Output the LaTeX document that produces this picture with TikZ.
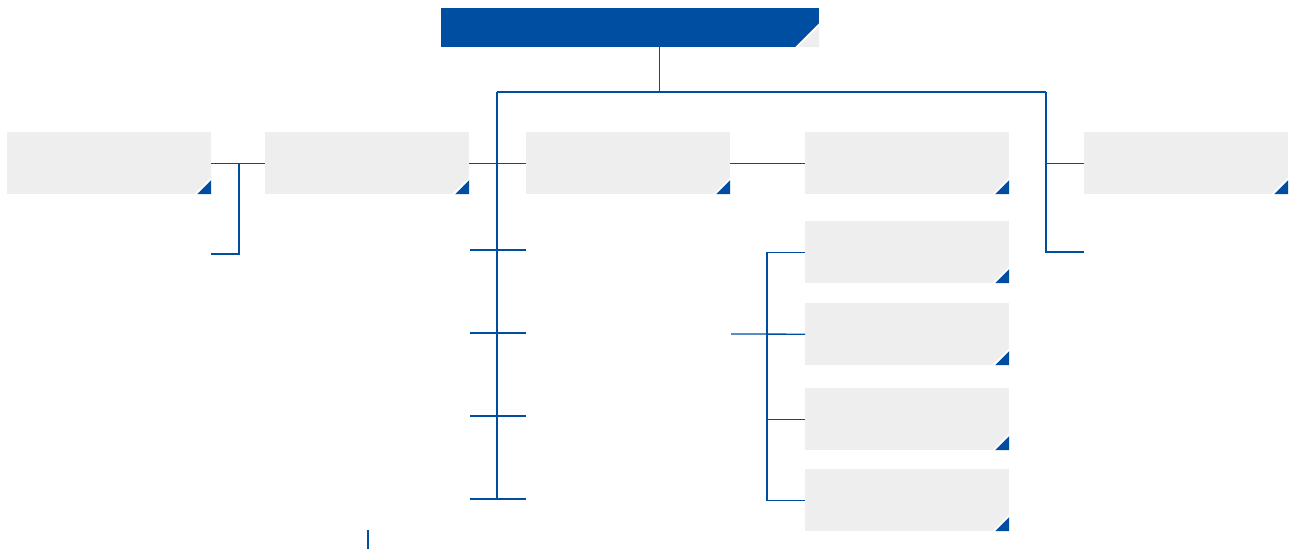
\documentclass[tikz,border=0pt]{standalone}
\definecolor{cblue}{RGB}{0,78,162}
\definecolor{cgrey}{RGB}{238,238,238}
\tikzset{
  x=1pt, y=-1pt,
  box/.style={fill=cgrey, inner sep=0pt, minimum width=204pt, minimum height=62pt, anchor=north west,
    path picture={
      \fill[white] (path picture bounding box.south east) -- ([xshift=-17pt]path picture bounding box.south east) -- ([yshift=17pt]path picture bounding box.south east) -- cycle;
      \fill[cblue] (path picture bounding box.south east) -- ([xshift=-14pt]path picture bounding box.south east) -- ([yshift=14pt]path picture bounding box.south east) -- cycle;
    }},
  topbox/.style={fill=cblue, inner sep=0pt, minimum width=378pt, minimum height=39pt, anchor=north west,
    path picture={
      \fill[white] (path picture bounding box.south east) -- ([xshift=-24pt]path picture bounding box.south east) -- ([yshift=24pt]path picture bounding box.south east) -- cycle;
      \fill[cgrey] (path picture bounding box.south east) -- ([xshift=-21pt]path picture bounding box.south east) -- ([yshift=21pt]path picture bounding box.south east) -- cycle;
    }},
  conn/.style={draw=cblue, line width=1.3pt},
}
\begin{document}
\begin{tikzpicture}
\useasboundingbox (0,0) rectangle (1292,553);
% nodes
\node[topbox] (top) at (441,8) {};
\node[box] (A) at (7,132) {};
\node[box] (B) at (265,132) {};
\node[box] (C) at (526,132) {};
\node[box] (D) at (805,132) {};
\node[box] (E) at (1084,132) {};
\node[box] (D1) at (805,221) {};
\node[box] (D2) at (805,303) {};
\node[box] (D3) at (805,388) {};
\node[box] (D4) at (805,469) {};
% coordinates
\coordinate (topOut) at ([xshift=29pt]top.south);
\coordinate (busL) at (497,92);
\coordinate (busR) at (1046,92);
\coordinate (cEnd) at (497,499);
\coordinate (t1l) at (470,250); \coordinate (t1r) at (526,250);
\coordinate (t2l) at (470,333); \coordinate (t2r) at (526,333);
\coordinate (t3l) at (470,416); \coordinate (t3r) at (526,416);
\coordinate (t4l) at (470,499); \coordinate (t4r) at (526,499);
\coordinate (jA) at (239,163);
\coordinate (aLow) at (211,254);
\coordinate (eLow) at (1084,252);
\coordinate (dBr) at (767,252);
\coordinate (dIn) at (731,334);
\coordinate (s1) at (368,530);
\coordinate (s2) at (368,549);
% connectors
\draw[conn] (topOut) -- (topOut |- busL);
\draw[conn] (busL) -- (busR);
\draw[conn] (busL) -- (cEnd);
\draw[conn] (B.east) -- (C.west);
\draw[conn] (t1l) -- (t1r);
\draw[conn] (t2l) -- (t2r);
\draw[conn] (t3l) -- (t3r);
\draw[conn] (t4l) -- (t4r);
\draw[conn] (A.east) -- (B.west);
\draw[conn] (jA) -- (jA |- aLow) -- (aLow);
\draw[conn] (C.east) -- (D.west);
\draw[conn] (busR) -- (busR |- eLow) -- (eLow);
\draw[conn] (E.west) -- (E.west -| busR);
\draw[conn] (D1.west) -- (D1.west -| dBr) -- (D4.west -| dBr) -- (D4.west);
\draw[conn] (D2.west) -- (dIn);
\draw[conn] (D3.west) -- (D3.west -| dBr);
\draw[conn] (s1) -- (s2);
\end{tikzpicture}
\end{document}
